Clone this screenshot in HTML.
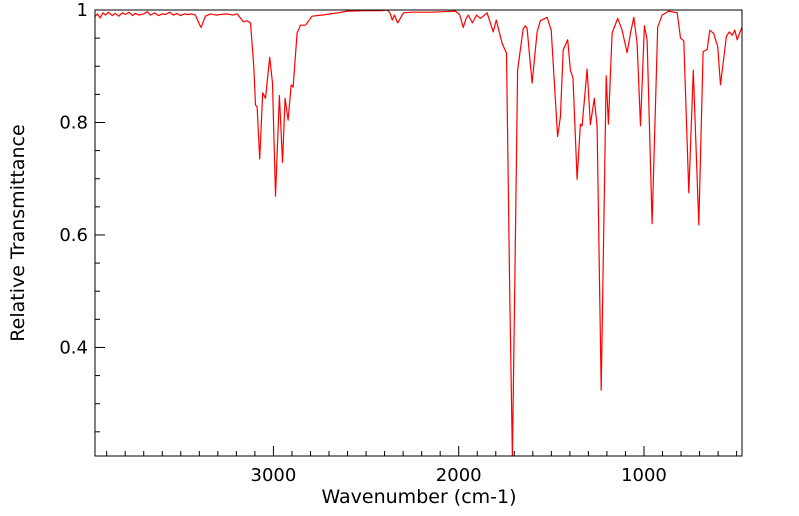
<!DOCTYPE html>
<html><head><meta charset="utf-8"><style>
html,body{margin:0;padding:0;background:#fff;}
svg{display:block;font-family:"DejaVu Sans","Liberation Sans",sans-serif;}
</style></head><body>
<svg id="chart" width="799" height="516" viewBox="0 0 799 516">
<defs><clipPath id="pc"><rect x="95" y="10" width="647" height="446"/></clipPath></defs>
<g id="axes"></g>
<g id="series" clip-path="url(#pc)"></g>
<rect x="95" y="10" width="647" height="446" fill="none" stroke="#000" stroke-width="1"/>
<text x="419" y="503" text-anchor="middle" font-size="19">Wavenumber (cm-1)</text>
<text transform="translate(24,233) rotate(-90)" text-anchor="middle" font-size="19">Relative Transmittance</text>
</svg>
<script>
const wavenumbers=[3961,3950,3935,3920,3907,3890,3870,3853,3835,3815,3799,3780,3760,3745,3725,3700,3680,3664,3640,3620,3600,3583,3560,3540,3520,3502,3480,3460,3440,3421,3400,3390,3380,3367,3340,3310,3286,3250,3220,3196,3162,3142,3124,3106,3097,3088,3074,3058,3043,3020,3005,2989,2968,2951,2937,2921,2904,2894,2872,2854,2827,2791,2740,2692,2650,2602,2500,2420,2386,2370,2359,2347,2329,2298,2250,2153,2080,2018,1995,1975,1960,1948,1926,1904,1883,1847,1814,1797,1766,1742,1725,1710,1698,1682,1652,1640,1631,1604,1577,1559,1523,1501,1478,1466,1451,1436,1412,1397,1383,1361,1343,1334,1307,1289,1268,1253,1231,1204,1192,1172,1142,1118,1091,1073,1055,1037,1019,998,983,956,926,902,867,821,803,785,758,734,704,681,659,645,624,602,587,555,540,524,510,497,485,470,460];
const transmittance=[0.989,0.993,0.986,0.995,0.991,0.996,0.990,0.994,0.989,0.995,0.992,0.996,0.990,0.994,0.991,0.993,0.997,0.991,0.995,0.990,0.993,0.992,0.996,0.991,0.994,0.990,0.993,0.992,0.993,0.991,0.975,0.969,0.978,0.989,0.993,0.991,0.992,0.993,0.991,0.993,0.979,0.981,0.977,0.899,0.831,0.828,0.735,0.853,0.843,0.916,0.870,0.669,0.848,0.729,0.843,0.804,0.867,0.863,0.959,0.973,0.973,0.989,0.991,0.993,0.995,0.998,0.999,0.999,1.0,0.994,0.982,0.991,0.977,0.995,0.996,0.996,0.997,0.998,0.992,0.969,0.985,0.991,0.977,0.991,0.985,0.995,0.961,0.982,0.941,0.923,0.500,0.205,0.500,0.893,0.967,0.972,0.967,0.870,0.961,0.981,0.987,0.964,0.840,0.775,0.810,0.929,0.947,0.893,0.879,0.699,0.797,0.794,0.895,0.796,0.843,0.793,0.324,0.883,0.797,0.959,0.985,0.964,0.924,0.959,0.987,0.941,0.794,0.972,0.947,0.620,0.970,0.991,0.998,0.995,0.950,0.945,0.675,0.893,0.618,0.926,0.930,0.964,0.958,0.935,0.867,0.953,0.961,0.955,0.964,0.947,0.958,0.970,0.962];
const xMajorTicks=[3000,2000,1000];
const xMinorTicks=[3900,3800,3700,3600,3500,3400,3300,3200,3100,2900,2800,2700,2600,2500,2400,2300,2200,2100,1900,1800,1700,1600,1500,1400,1300,1200,1100,900,800,700,600,500];
const yMajorTicks=[1,0.8,0.6,0.4];
const yMajorLabels=["1","0.8","0.6","0.4"];
const yMinorTicks=[0.95,0.9,0.85,0.75,0.7,0.65,0.55,0.5,0.45,0.35,0.3,0.25];
const xLabels=["3000","2000","1000"];

const L=95,R=742,T=10,B=456;
const WN_L=3963,WN_R=471,YMAX=1.0,YMIN=0.207;
function xs(w){return L+(WN_L-w)/(WN_L-WN_R)*(R-L);}
function ys(v){return T+(YMAX-v)/(YMAX-YMIN)*(B-T);}
const NS="http://www.w3.org/2000/svg";
const ax=document.getElementById('axes');
function line(x1,y1,x2,y2,name){
  const l=document.createElementNS(NS,'line');
  l.setAttribute('x1',x1);l.setAttribute('y1',y1);l.setAttribute('x2',x2);l.setAttribute('y2',y2);
  l.setAttribute('stroke','#000');l.setAttribute('stroke-width','1');
  
  
  ax.appendChild(l);
}
function text(x,y,s,anchor,name){
  const t=document.createElementNS(NS,'text');
  t.setAttribute('x',x);t.setAttribute('y',y);t.setAttribute('text-anchor',anchor);t.setAttribute('font-size','18');
  t.textContent=s;
  
  
  ax.appendChild(t);
}
xMajorTicks.forEach((w,i)=>{const x=xs(w);line(x,B,x,B-10,'x-major-tick');text(x,481,xLabels[i],'middle','x-tick-label');});
xMinorTicks.forEach(w=>{const x=xs(w);line(x,B,x,B-5,'x-minor-tick');});
yMajorTicks.forEach((v,i)=>{const y=ys(v);line(L,y,L+10,y,'y-major-tick');text(88,y+6,yMajorLabels[i],'end','y-tick-label');});
yMinorTicks.forEach(v=>{const y=ys(v);line(L,y,L+5,y,'y-minor-tick');});
let d='';
wavenumbers.forEach((w,i)=>{d+=(i?'L':'M')+xs(w).toFixed(1)+' '+ys(transmittance[i]).toFixed(1);});
const p=document.createElementNS(NS,'path');
p.setAttribute('d',d);p.setAttribute('fill','none');p.setAttribute('stroke','#ff0000');p.setAttribute('stroke-width','1.2');p.setAttribute('stroke-linejoin','round');


document.getElementById('series').appendChild(p);
</script>
</body></html>
